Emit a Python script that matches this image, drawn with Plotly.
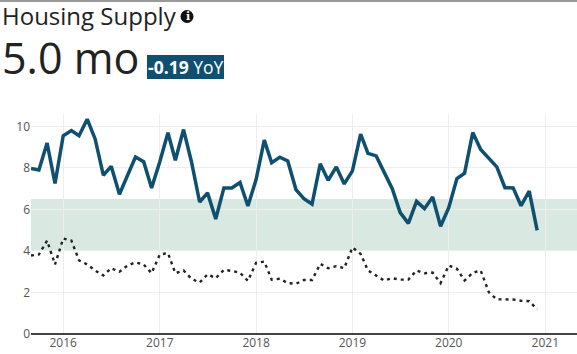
import plotly.graph_objects as go
import pandas as pd

dates = pd.date_range("2015-09-01", "2020-12-01", freq="MS").strftime("%Y-%m-%d").tolist()
supply = [7.97, 7.9, 9.2, 7.25, 9.55, 9.8, 9.55, 10.35, 9.4, 7.65, 8.08, 6.73,
          7.65, 8.53, 8.3, 7.04, 8.3, 9.7, 8.37, 9.85, 8.3, 6.36, 6.8, 5.54,
          7.04, 7.04, 7.3, 6.17, 7.44, 9.34, 8.25, 8.52, 8.34, 6.96, 6.52, 6.26,
          8.2, 7.41, 8.05, 7.23, 7.86, 9.63, 8.7, 8.58, 7.8, 7.0, 5.85, 5.33,
          6.39, 6.04, 6.6, 5.19, 6.09, 7.49, 7.75, 9.71, 8.89, 8.49, 8.05, 7.05,
          7.04, 6.18, 6.88, 4.99]
benchmark = [3.78, 3.83, 4.5, 3.35, 4.6, 4.5, 3.55, 3.35, 3.06, 2.82, 3.17, 3.0,
             3.3, 3.45, 3.35, 2.93, 3.83, 3.9, 2.93, 3.06, 2.66, 2.48, 2.87, 2.69,
             3.09, 3.04, 2.95, 2.56, 3.43, 3.49, 2.62, 2.66, 2.45, 2.42, 2.6, 2.6,
             3.38, 3.17, 3.27, 3.17, 4.17, 3.86, 3.06, 2.82, 2.58, 2.69, 2.62, 2.62,
             3.06, 2.93, 2.96, 2.45, 3.3, 3.14, 2.58, 2.95, 3.06, 2.01, 1.67, 1.67,
             1.66, 1.6, 1.58, 1.19]
year_ticks = ["2016-01-01", "2017-01-01", "2018-01-01", "2019-01-01", "2020-01-01", "2021-01-01"]
year_labels = ["2016", "2017", "2018", "2019", "2020", "2021"]
y_ticks = [0, 2, 4, 6, 8, 10]
band = [4, 6.5]
x_range = ["2015-09-01", "2021-05-01"]
y_range = [0, 10.6]
title = "Housing Supply"
big_value = "5.0 mo"
change = "<b>-0.19</b> YoY"

W, H = 577, 354
L, R, T, B = 31, 0, 114, 20
px = lambda x: (x - L) / (W - L - R)
py = lambda y: (H - B - y) / (H - T - B)

NAVY = "#0f4f6f"
fig = go.Figure()
fig.add_trace(go.Scatter(x=dates, y=benchmark, mode="lines", hoverinfo="skip",
                         line=dict(color="#222222", width=2.4, dash="3px,4px")))
fig.add_trace(go.Scatter(x=dates, y=supply, mode="lines", hoverinfo="skip",
                         line=dict(color=NAVY, width=3.5)))

shapes = [
    dict(type="rect", xref="paper", yref="y", x0=0, x1=1, y0=band[0], y1=band[1],
         fillcolor="#d9e9e2", line_width=0, layer="below"),
    dict(type="line", xref="paper", yref="paper", x0=px(0), x1=px(577), y0=py(1), y1=py(1),
         line=dict(color="#777777", width=1.5)),
    dict(type="circle", xref="paper", yref="paper", x0=px(180.5), x1=px(193.5), y0=py(23), y1=py(10),
         fillcolor="#111111", line_width=0),
    dict(type="rect", xref="paper", yref="paper", x0=px(147), x1=px(224), y0=py(79), y1=py(55),
         fillcolor=NAVY, line_width=0),
]
def note(text, x, y, size, color, family="Open Sans"):
    return dict(text=text, xref="paper", yref="paper", x=px(x), y=py(y), xanchor="left",
                yanchor="middle", showarrow=False, borderpad=0,
                font=dict(family=family, size=size, color=color))
annotations = [
    note(title, 1, 15, 24, "#222222"),
    note("<b>i</b>", 184.5, 16.5, 11, "#ffffff", "DejaVu Serif"),
    note(big_value, 1, 58, 43, "#222222"),
    note(change, 147, 67, 17.5, "#ffffff"),
]

fig.update_layout(
    width=W, height=H, showlegend=False, plot_bgcolor="white", paper_bgcolor="white",
    margin=dict(l=L, r=R, t=T, b=B), shapes=shapes, annotations=annotations,
    font=dict(family="Open Sans", size=12, color="#555555"),
    xaxis=dict(type="date", range=x_range, tickvals=year_ticks, ticktext=year_labels,
               showgrid=True, gridcolor="#eeeeee", gridwidth=1, zeroline=False,
               showline=False, ticks=""),
    yaxis=dict(range=y_range, tickvals=y_ticks, showgrid=True, gridcolor="#eeeeee", gridwidth=1,
               zeroline=True, zerolinecolor="#444444", zerolinewidth=1.5, ticks="", showline=False),
)
fig.write_html("out.html", config=dict(displayModeBar=False),
               post_script="document.body.style.margin='0';")
